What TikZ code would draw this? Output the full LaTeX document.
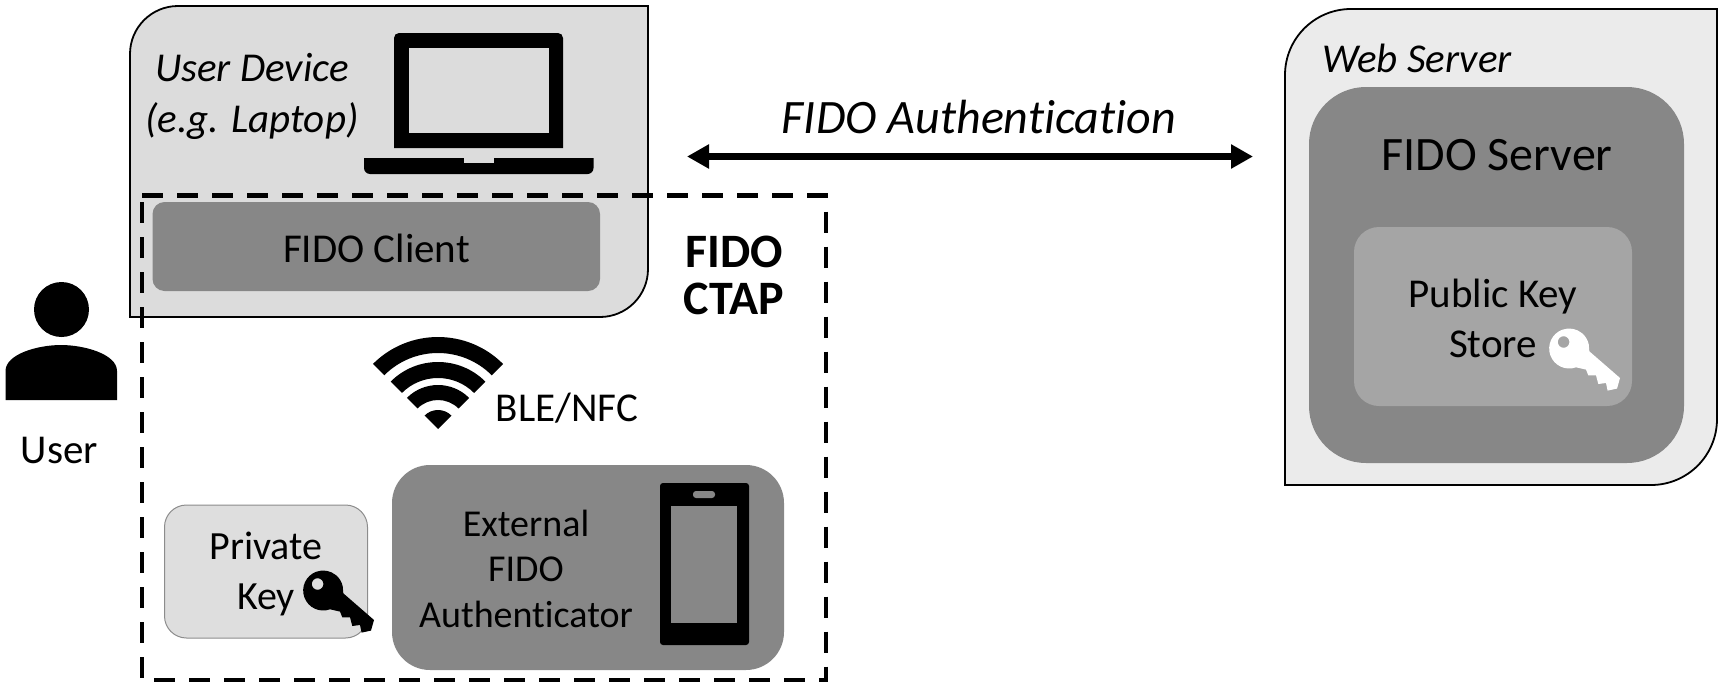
\documentclass[tikz,border=0pt]{standalone}
\usepackage{fontspec}
\setmainfont[Ligatures=CommonOff]{Carlito}
\usetikzlibrary{arrows.meta,positioning}
\definecolor{devicegrey}{HTML}{DCDCDC}
\definecolor{servergrey}{HTML}{EBEBEB}
\definecolor{darkgrey}{HTML}{878787}
\definecolor{storegrey}{HTML}{A5A5A5}
\definecolor{keygrey}{HTML}{DEDEDE}
\newcommand{\px}[1]{\fontsize{#1}{#1}\selectfont}
\tikzset{
  every node/.style={inner sep=0pt, outer sep=0pt, align=center},
  box/.style={fill=darkgrey, rounded corners=#1},
  keyicon/.pic={
    \path[pic actions, even odd rule] (20,4) -- (50.7,30.7) -- (47.7,41.3) -- (38.3,43.3) -- (36.7,35.7)
      -- (29,36.7) -- (26.7,28) -- (19,28) -- (16.7,22.3) -- (6.7,20)
      arc[start angle=70, end angle=348, radius=20] -- cycle
      (-5.7,-5.3) circle[radius=5.8];
  }
}
\begin{document}
\begin{tikzpicture}[x=1pt, y=-1pt]
  \useasboundingbox (0,0) rectangle (1723,688);
  % user device
  \draw[fill=devicegrey, line width=1.8pt] (130,317) -- (130,54) arc[start angle=180, end angle=270, radius=48]
    -- (648,6) -- (648,269) arc[start angle=0, end angle=90, radius=48] -- cycle;
  \node[font=\px{41}\itshape] (devicetext) at (252,96) {User Device\\[10pt](e.g. Laptop)};
  % laptop
  \fill (394,148) -- (394,38) arc[start angle=180, end angle=270, radius=5] -- (558,33)
    arc[start angle=270, end angle=360, radius=5] -- (563,148) -- cycle;
  \fill[devicegrey] (409,48) rectangle (548.5,133);
  \fill (364,158) -- (593.5,158) -- (593.5,168) arc[start angle=0, end angle=90, radius=6] -- (370,174)
    arc[start angle=90, end angle=180, radius=6] -- cycle;
  \fill[devicegrey] (463.5,158) rectangle (494,163);
  \node[box=12pt, minimum width=447.5pt, minimum height=89pt] (client) at (376.25,246.5) {};
  \node[font=\px{41}] (clienttext) at (376.5,248.5) {FIDO Client};
  % user
  \fill (61.5,309.5) circle[radius=27.5];
  \fill (5.5,400) -- (5.5,371) .. controls (5.5,354) and (38,345) .. (61,345) .. controls (84,345) and (117,354) .. (117,371) -- (117,400) -- cycle;
  \node[font=\px{41}] (user) at (59.5,450) {User};
  % wifi
  \begin{scope}[shift={(438,429)}]
    \foreach \ro/\ri in {92/76,67/51,44/29} {
      \fill (225:\ro) arc[start angle=225, end angle=315, radius=\ro] -- (315:\ri)
        arc[start angle=315, end angle=225, radius=\ri] -- cycle;
    }
    \fill (0,0) -- (225:19) arc[start angle=225, end angle=315, radius=19] -- cycle;
  \end{scope}
  \node[font=\px{41}] (ble) at (567,408) {BLE/NFC};
  % private key and authenticator
  \node[fill=keygrey, draw=black!45, line width=1pt, rounded corners=22pt, minimum width=203pt, minimum height=133pt] (privkey) at (266,571.5) {};
  \node[font=\px{40}] (privtext) at (266,573.5) {Private\\[10pt]Key};
  \pic[fill=black] (blackkey) at (323.3,589.3) {keyicon};
  \node[box=38pt, minimum width=392pt, minimum height=205pt] (auth) at (588,567.5) {};
  \node[font=\px{38}] (authtext) at (526,568.5) {External\\[7.5pt]FIDO\\[7.5pt]Authenticator};
  \node[fill=black, rounded corners=3pt, minimum width=89pt, minimum height=162pt] (phone) at (704.5,564) {};
  \node[fill=darkgrey, minimum width=66pt, minimum height=117pt] (phonescreen) at (704,564.5) {};
  \node[fill=darkgrey, rounded corners=3pt, minimum width=22pt, minimum height=7pt] (phonecam) at (704,494.5) {};
  % ctap region
  \draw[line width=4.4pt, dash pattern=on 21pt off 14pt] (142,195.5) -- (826,195.5) -- (826,680) -- (142,680) -- cycle;
  \node[font=\px{48}\bfseries] (ctap) at (734,275.5) {FIDO\\[-1pt]CTAP};
  % web server
  \draw[fill=servergrey, line width=1.8pt] (1285,485) -- (1285,75) arc[start angle=180, end angle=270, radius=66]
    -- (1717,9) -- (1717,419) arc[start angle=0, end angle=90, radius=66] -- cycle;
  \node[font=\px{41}\itshape] (webtext) at (1417,58) {Web Server};
  \node[box=57pt, minimum width=375pt, minimum height=376pt] (server) at (1496.5,275) {};
  \node[font=\px{48}] (servertext) at (1497,155.5) {FIDO Server};
  \node[fill=storegrey, rounded corners=25pt, minimum width=278pt, minimum height=179pt] (store) at (1493,316.5) {};
  \node[font=\px{41}] (storetext) at (1493,318) {Public Key\\[9pt]Store};
  \pic[fill=white] (whitekey) at (1569.3,347.3) {keyicon};
  % authentication link
  \coordinate (linkl) at (687,156.5);
  \coordinate (linkr) at (1253,156.5);
  \draw[{Triangle[length=22pt, width=23pt]}-{Triangle[length=22pt, width=23pt]}, line width=7pt] (linkl) -- (linkr);
  \node[font=\px{48}\itshape] (linktext) at (979,117) {FIDO Authentication};
\end{tikzpicture}
\end{document}
